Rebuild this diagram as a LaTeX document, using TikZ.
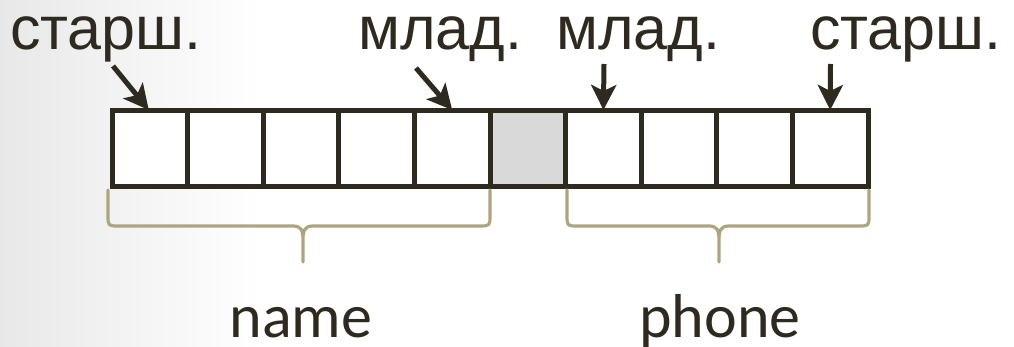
\documentclass[tikz,border=0pt]{standalone}
\usepackage{fontspec}
\setmainfont{Liberation Sans}
\newfontfamily\bracefont{Carlito}
\usetikzlibrary{arrows.meta}
\definecolor{ink}{HTML}{2E2A20}
\definecolor{brc}{HTML}{ADA57F}
\definecolor{cellgray}{HTML}{D9D9D9}
\begin{document}
\begin{tikzpicture}[x=1pt,y=-1pt,
  cell/.style={draw=ink,line width=5pt,minimum width=75.6pt,minimum height=76pt,inner sep=0pt,outer sep=0pt,fill=white},
  toplabel/.style={text=ink,font=\fontsize{61}{61}\selectfont,inner sep=0pt,anchor=base west},
  botlabel/.style={text=ink,font=\bracefont\fontsize{62}{62}\selectfont,inner sep=0pt,anchor=base},
  ptr/.style={draw=ink,line width=5pt,-{Stealth[length=25pt,width=25pt,inset=6pt]}},
  bracepath/.style={draw=brc,line width=3.2pt,line cap=round,line join=round}]
\useasboundingbox (0,0) rectangle (1014,347);
\fill[white] (0,0) rectangle (1014,347);
\shade[left color=black!9,right color=white] (0,0) rectangle (260,347);
% cells
\foreach \i in {1,...,10}{
  \node[cell] (c\i) at ({112+75.6*(\i-1)+37.8},149) {};
}
\node[cell,fill=cellgray] at (c6) {};
% labels
\node[toplabel] (s1) at (10,50) {старш.};
\node[toplabel] (m1) at (358,50) {млад.};
\node[toplabel] (m2) at (556,50) {млад.};
\node[toplabel] (s2) at (810,50) {старш.};
% arrow tails
\coordinate (t1) at (113,66);
\coordinate (t2) at (416,68);
\coordinate (t3) at (604,64);
\coordinate (t4) at (830.5,64);
\draw[ptr] (t1) -- ([xshift=-1pt,yshift=1pt]c1.north);
\draw[ptr] (t2) -- ([yshift=1pt]c5.north);
\draw[ptr] (t3) -- ([yshift=1pt]c7.north);
\draw[ptr] (t4) -- ([yshift=1pt]c10.north);
% braces
\draw[bracepath] (108,190) -- (108,215) .. controls (108,226) .. (119,226) -- (293,226)
  .. controls (301,226) and (303,230) .. (303,240) -- (303,262)
  (303,240) .. controls (303,230) and (305,226) .. (313,226) -- (479,226)
  .. controls (490,226) .. (490,215) -- (490,190);
\draw[bracepath] (567,190) -- (567,215) .. controls (567,226) .. (578,226) -- (709,226)
  .. controls (717,226) and (719,230) .. (719,240) -- (719,262)
  (719,240) .. controls (719,230) and (721,226) .. (729,226) -- (858,226)
  .. controls (869,226) .. (869,215) -- (869,190);
\node[botlabel] (nm) at (301,337) {name};
\node[botlabel] (ph) at (720,337) {phone};
\end{tikzpicture}
\end{document}
